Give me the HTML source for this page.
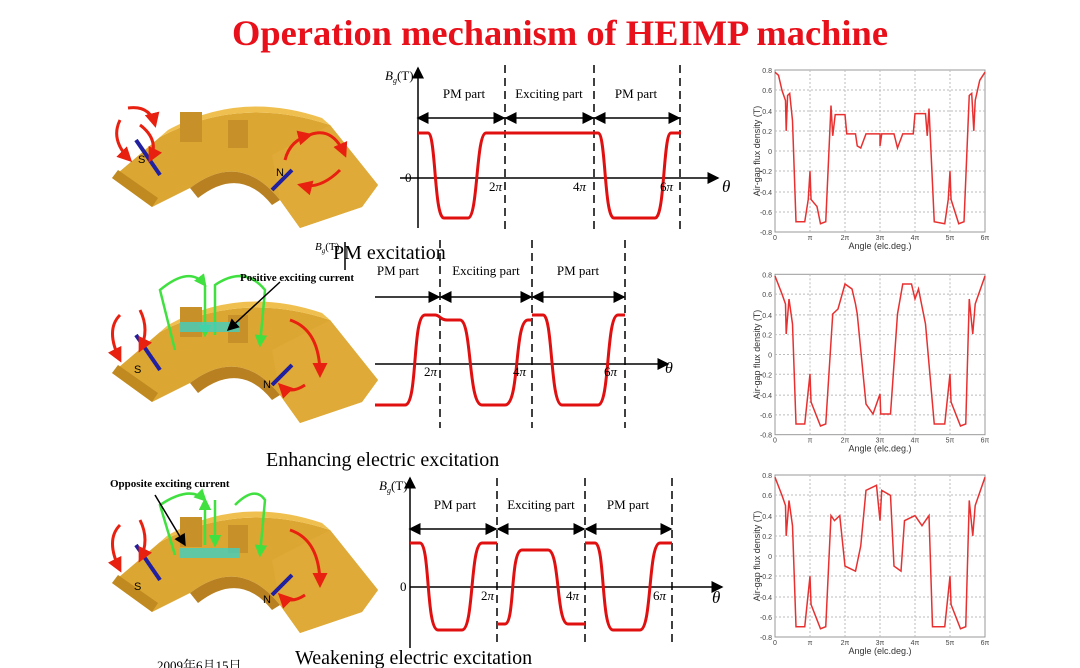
<!DOCTYPE html>
<html><head><meta charset="utf-8"><style>
html,body{margin:0;padding:0;background:#fff;width:1080px;height:668px;overflow:hidden}
svg{display:block}
.s{font-family:"Liberation Serif",serif}
.a{font-family:"Liberation Sans",sans-serif}
</style></head><body>
<svg width="1080" height="668" viewBox="0 0 1080 668" xmlns="http://www.w3.org/2000/svg">
<defs>
<marker id="ah" markerWidth="8" markerHeight="8" refX="7" refY="4" orient="auto"><path d="M0,0 L8,4 L0,8 Z" fill="#000"/></marker>
<marker id="ahs" markerWidth="8" markerHeight="8" refX="1" refY="4" orient="auto"><path d="M8,0 L0,4 L8,8 Z" fill="#000"/></marker>
<marker id="rh" markerWidth="5" markerHeight="5" refX="4" refY="2.5" orient="auto"><path d="M0,0 L5,2.5 L0,5 Z" fill="#e82010"/></marker>
<marker id="gh" markerWidth="5" markerHeight="5" refX="4" refY="2.5" orient="auto"><path d="M0,0 L5,2.5 L0,5 Z" fill="#40e040"/></marker>
<g id="mach">
<path d="M112,178 L160,137 Q240,95 330,125 L378,185 L362,207 L300,228 L280,200 Q240,150 190,188 L152,207 Z" fill="#dca632"/>
<path d="M160,137 Q240,95 330,125 L322,118 Q240,90 168,130 Z" fill="#efc050"/>
<path d="M112,178 L152,207 L158,198 L118,170 Z" fill="#c08a20"/>
<path d="M280,200 L300,228 L362,207 L378,185 L330,125 L272,155 Z" fill="#e0aa38"/>
<path d="M190,188 Q240,150 280,200 L272,205 Q240,165 198,198 Z" fill="#b88020"/>
<rect x="180" y="112" width="22" height="30" fill="#c89028"/>
<rect x="228" y="120" width="20" height="28" fill="#c89028"/>
<line x1="136" y1="140" x2="160" y2="175" stroke="#2020a0" stroke-width="4"/>
<line x1="272" y1="190" x2="292" y2="170" stroke="#2020a0" stroke-width="4"/>
</g>
</defs>
<text x="560" y="45" text-anchor="middle" class="s" font-size="36" font-weight="bold" fill="#e8101a" textLength="656" lengthAdjust="spacingAndGlyphs">Operation mechanism of HEIMP machine</text>

<!-- machines -->
<use href="#mach"/>
<g fill="none" stroke="#e82010" stroke-width="3" marker-end="url(#rh)">
<path d="M120,120 Q110,140 130,160"/><path d="M128,108 Q150,105 155,125"/><path d="M140,125 Q160,140 150,160"/>
<path d="M300,140 Q330,120 345,155"/><path d="M340,170 Q320,190 300,185"/><path d="M285,160 Q290,140 310,135"/>
</g>
<text x="138" y="163" class="a" font-size="11">S</text><text x="276" y="176" class="a" font-size="11">N</text>

<use href="#mach" transform="translate(0,195)"/>
<g fill="none" stroke="#40e040" stroke-width="2.5" marker-end="url(#gh)">
<path d="M175,350 L160,290 Q190,265 205,285"/><path d="M205,285 L205,335"/><path d="M215,335 L215,285 Q245,265 265,290 L260,345"/>
</g>
<g fill="none" stroke="#e82010" stroke-width="3" marker-end="url(#rh)">
<path d="M120,315 Q105,330 120,360"/><path d="M140,310 Q150,330 140,350"/><path d="M290,320 Q320,330 320,375"/><path d="M305,385 Q290,395 280,385"/>
</g>
<rect x="180" y="322" width="60" height="10" fill="#40d0c0" opacity=".8"/>
<line x1="280" y1="282" x2="228" y2="330" stroke="#000" stroke-width="1.5" marker-end="url(#ah)"/>
<text x="240" y="281" class="s" font-size="11" font-weight="bold">Positive exciting current</text>
<text x="134" y="373" class="a" font-size="11">S</text><text x="263" y="388" class="a" font-size="11">N</text>

<use href="#mach" transform="translate(0,405)"/>
<g fill="none" stroke="#40e040" stroke-width="2.5" marker-end="url(#gh)">
<path d="M175,555 L160,505 Q190,485 205,500"/><path d="M205,545 L205,500"/><path d="M215,500 L215,545"/><path d="M235,505 Q255,485 265,500 L260,555"/>
</g>
<g fill="none" stroke="#e82010" stroke-width="3" marker-end="url(#rh)">
<path d="M120,525 Q105,540 120,570"/><path d="M140,520 Q150,540 140,560"/><path d="M290,530 Q320,540 320,585"/><path d="M305,595 Q290,605 280,595"/>
</g>
<rect x="180" y="548" width="60" height="10" fill="#40d0c0" opacity=".8"/>
<line x1="155" y1="495" x2="185" y2="545" stroke="#000" stroke-width="1.5" marker-end="url(#ah)"/>
<text x="110" y="487" class="s" font-size="11" font-weight="bold">Opposite exciting current</text>
<text x="134" y="590" class="a" font-size="11">S</text><text x="263" y="603" class="a" font-size="11">N</text>

<!-- chart 1 -->
<g stroke="#000" stroke-width="1.5" fill="none">
<line x1="418" y1="228" x2="418" y2="68" marker-end="url(#ah)"/>
<line x1="400" y1="178" x2="718" y2="178" marker-end="url(#ah)"/>
<g stroke-dasharray="8,5"><line x1="505" y1="65" x2="505" y2="230"/><line x1="594" y1="65" x2="594" y2="230"/><line x1="680" y1="65" x2="680" y2="230"/></g>
<g marker-start="url(#ahs)" marker-end="url(#ah)"><line x1="418" y1="118" x2="504" y2="118"/><line x1="506" y1="118" x2="593" y2="118"/><line x1="595" y1="118" x2="679" y2="118"/></g>
</g>
<path d="M418,133 L428,133 C436,133 434,218 444,218 L468,218 C478,218 476,133 486,133 L598,133 C606,133 604,218 614,218 L655,218 C665,218 663,133 671,133 L681,133" stroke="#e01010" stroke-width="3" fill="none"/>
<g class="s" font-size="13">
<text x="385" y="80" font-style="italic">B<tspan font-size="8" dy="3">g</tspan><tspan dy="-3" font-style="normal">(T)</tspan></text>
<text x="464" y="98" text-anchor="middle">PM part</text><text x="549" y="98" text-anchor="middle">Exciting part</text><text x="636" y="98" text-anchor="middle">PM part</text>
<text x="405" y="182">0</text><text x="489" y="191">2<tspan font-style="italic">π</tspan></text><text x="573" y="191">4<tspan font-style="italic">π</tspan></text><text x="660" y="191">6<tspan font-style="italic">π</tspan></text>
<text x="722" y="192" font-size="17" font-style="italic">θ</text>
</g>

<!-- chart 2 -->
<g stroke="#000" stroke-width="1.5" fill="none">
<line x1="345" y1="270" x2="345" y2="242"/>
<line x1="375" y1="364" x2="668" y2="364" marker-end="url(#ah)"/>
<g stroke-dasharray="8,5"><line x1="440" y1="240" x2="440" y2="428"/><line x1="532" y1="240" x2="532" y2="428"/><line x1="625" y1="240" x2="625" y2="428"/></g>
<line x1="375" y1="297" x2="439" y2="297" marker-end="url(#ah)"/>
<g marker-start="url(#ahs)" marker-end="url(#ah)"><line x1="441" y1="297" x2="531" y2="297"/><line x1="533" y1="297" x2="624" y2="297"/></g>
</g>
<path d="M375,405 L405,405 C418,405 412,315 425,315 L435,315 C440,315 440,320 447,320 L460,320 C472,320 468,405 482,405 L505,405 C520,405 514,320 528,320 L532,320 M532,315 L543,315 C553,315 550,405 562,405 L598,405 C610,405 606,315 618,315 L625,315" stroke="#e01010" stroke-width="3" fill="none"/>
<g class="s" font-size="13">
<text x="315" y="250" font-style="italic" font-size="11">B<tspan font-size="7" dy="3">g</tspan><tspan dy="-3" font-style="normal">(T)</tspan></text>
<text x="333" y="259" font-size="20">PM excitation</text>
<text x="398" y="275" text-anchor="middle">PM part</text><text x="486" y="275" text-anchor="middle">Exciting part</text><text x="578" y="275" text-anchor="middle">PM part</text>
<text x="424" y="376">2<tspan font-style="italic">π</tspan></text><text x="513" y="376">4<tspan font-style="italic">π</tspan></text><text x="604" y="376">6<tspan font-style="italic">π</tspan></text>
<text x="665" y="373" font-size="16" font-style="italic">θ</text>
<text x="266" y="466" font-size="20">Enhancing electric excitation</text>
</g>

<!-- chart 3 -->
<g stroke="#000" stroke-width="1.5" fill="none">
<line x1="410" y1="648" x2="410" y2="478" marker-end="url(#ah)"/>
<line x1="410" y1="587" x2="722" y2="587" marker-end="url(#ah)"/>
<g stroke-dasharray="8,5"><line x1="497" y1="478" x2="497" y2="645"/><line x1="585" y1="478" x2="585" y2="645"/><line x1="672" y1="478" x2="672" y2="645"/></g>
<g marker-start="url(#ahs)" marker-end="url(#ah)"><line x1="410" y1="529" x2="496" y2="529"/><line x1="498" y1="529" x2="584" y2="529"/><line x1="586" y1="529" x2="671" y2="529"/></g>
</g>
<path d="M410,543 L420,543 C430,543 426,630 438,630 L462,630 C474,630 470,543 482,543 L497,543 M497,624 L505,624 C515,624 510,550 522,550 L548,550 C560,550 556,624 568,624 L585,624 M585,543 L595,543 C605,543 601,630 613,630 L640,630 C652,630 648,543 660,543 L672,543" stroke="#e01010" stroke-width="3" fill="none"/>
<g class="s" font-size="13">
<text x="379" y="490" font-style="italic">B<tspan font-size="8" dy="3">g</tspan><tspan dy="-3" font-style="normal">(T)</tspan></text>
<text x="455" y="509" text-anchor="middle">PM part</text><text x="541" y="509" text-anchor="middle">Exciting part</text><text x="628" y="509" text-anchor="middle">PM part</text>
<text x="400" y="591">0</text><text x="481" y="600">2<tspan font-style="italic">π</tspan></text><text x="566" y="600">4<tspan font-style="italic">π</tspan></text><text x="653" y="600">6<tspan font-style="italic">π</tspan></text>
<text x="712" y="603" font-size="17" font-style="italic">θ</text>
<text x="295" y="664" font-size="20">Weakening electric excitation</text>
<text x="157" y="670" font-size="13" style="font-family:'Liberation Serif','Noto Serif CJK SC',serif">2009年6月15日</text>
</g>

<!-- right plots -->
<g id="grid1">
<rect x="775" y="70" width="210" height="162" fill="none" stroke="#999"/>
<g stroke="#bbb" stroke-dasharray="2,2">
<line x1="810" y1="70" x2="810" y2="232"/><line x1="845" y1="70" x2="845" y2="232"/><line x1="880" y1="70" x2="880" y2="232"/><line x1="915" y1="70" x2="915" y2="232"/><line x1="950" y1="70" x2="950" y2="232"/>
<line x1="775" y1="90" x2="985" y2="90"/><line x1="775" y1="111" x2="985" y2="111"/><line x1="775" y1="131" x2="985" y2="131"/><line x1="775" y1="151" x2="985" y2="151"/><line x1="775" y1="171" x2="985" y2="171"/><line x1="775" y1="192" x2="985" y2="192"/><line x1="775" y1="212" x2="985" y2="212"/>
</g>
<g class="a" font-size="7" fill="#444" text-anchor="end">
<text x="772" y="73">0.8</text><text x="772" y="93">0.6</text><text x="772" y="114">0.4</text><text x="772" y="134">0.2</text><text x="772" y="154">0</text><text x="772" y="174">-0.2</text><text x="772" y="195">-0.4</text><text x="772" y="215">-0.6</text><text x="772" y="235">-0.8</text>
</g>
<g class="a" font-size="7" fill="#444" text-anchor="middle">
<text x="775" y="240">0</text><text x="810" y="240">π</text><text x="845" y="240">2π</text><text x="880" y="240">3π</text><text x="915" y="240">4π</text><text x="950" y="240">5π</text><text x="985" y="240">6π</text>
</g>
<text x="880" y="249" class="a" font-size="9" text-anchor="middle" fill="#333">Angle (elc.deg.)</text>
<text transform="translate(760,151) rotate(-90)" class="a" font-size="9" text-anchor="middle" fill="#333">Air-gap flux density (T)</text>
</g>
<use href="#grid1" transform="translate(0,205) scale(1,0.99)"/>
<use href="#grid1" transform="translate(0,405)"/>

<polyline transform="translate(775,151) scale(35,-101)" vector-effect="non-scaling-stroke" fill="none" stroke="#e83030" stroke-width="1.5" points="0,.78 .1,.75 .2,.6 .3,.5 .32,.2 .36,.55 .42,.57 .5,.3 .6,-.7 .85,-.7 .95,-.48 1,-.2 1.03,-.48 1.2,-.55 1.3,-.72 1.45,-.7 1.6,.45 1.65,.15 1.72,.36 2,.36 2.05,.17 2.3,.17 2.35,.05 2.45,.03 2.6,.17 3,.17 3,.05 3.05,.17 3.4,.17 3.5,.03 3.65,.17 3.95,.17 4,.37 4.3,.37 4.35,.15 4.4,.42 4.55,-.7 4.85,-.72 4.95,-.48 5,-.2 5.03,-.48 5.25,-.72 5.4,-.7 5.55,.55 5.62,.57 5.68,.2 5.72,.5 5.85,.7 6,.78"/>
<polyline transform="translate(775,354) scale(35,-100)" vector-effect="non-scaling-stroke" fill="none" stroke="#e83030" stroke-width="1.5" points="0,.78 .2,.6 .3,.5 .32,.2 .4,.55 .5,.3 .6,-.7 .85,-.7 1,-.2 1.03,-.48 1.3,-.72 1.45,-.7 1.65,.4 1.8,.45 2,.7 2.2,.65 2.3,.5 2.35,.4 2.6,-.5 2.8,-.6 3,-.4 3.02,-.6 3.3,-.6 3.5,.4 3.65,.7 3.9,.7 4,.55 4.1,.65 4.3,.3 4.55,-.7 4.85,-.7 5,-.2 5.03,-.48 5.3,-.72 5.45,-.7 5.55,.55 5.65,.2 5.72,.5 6,.78"/>
<polyline transform="translate(775,556) scale(35,-101)" vector-effect="non-scaling-stroke" fill="none" stroke="#e83030" stroke-width="1.5" points="0,.78 .2,.6 .3,.5 .32,.2 .4,.55 .5,.3 .6,-.7 .85,-.7 1,-.2 1.03,-.48 1.3,-.72 1.45,-.7 1.6,.4 1.7,.35 1.85,.4 2,-.1 2.3,-.15 2.45,.1 2.6,.65 2.9,.7 3,.35 3.05,.65 3.3,.6 3.4,-.1 3.6,-.15 3.7,.35 4,.4 4.2,.3 4.4,.4 4.5,-.7 4.85,-.7 5,-.2 5.03,-.48 5.3,-.72 5.45,-.7 5.55,.55 5.65,.2 5.72,.5 6,.78"/>
</svg>
</body></html>
